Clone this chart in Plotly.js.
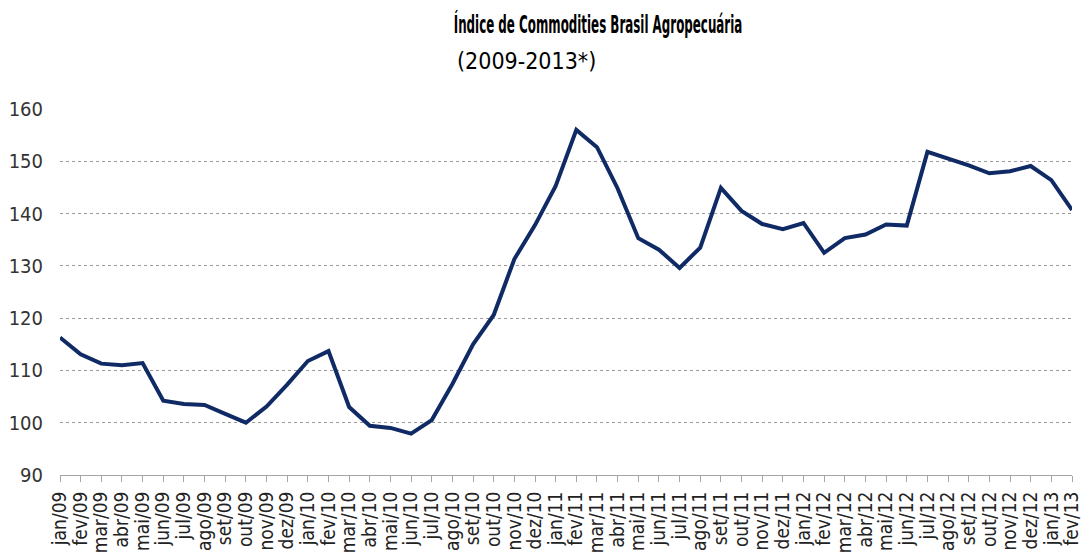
<!DOCTYPE html>
<html>
<head>
<meta charset="utf-8">
<script src="https://cdn.plot.ly/plotly-3.0.1.min.js"></script>
<style>
html,body{margin:0;padding:0;background:#fff}
#chart{width:1082px;height:555px}
</style>
</head>
<body>
<div id="chart"></div>
<script>
const months = ["jan/09","fev/09","mar/09","abr/09","mai/09","jun/09","jul/09","ago/09","set/09","out/09","nov/09","dez/09",
"jan/10","fev/10","mar/10","abr/10","mai/10","jun/10","jul/10","ago/10","set/10","out/10","nov/10","dez/10",
"jan/11","fev/11","mar/11","abr/11","mai/11","jun/11","jul/11","ago/11","set/11","out/11","nov/11","dez/11",
"jan/12","fev/12","mar/12","abr/12","mai/12","jun/12","jul/12","ago/12","set/12","out/12","nov/12","dez/12",
"jan/13","fev/13"];
const indexValues = [116.3,113.1,111.3,111.0,111.4,104.2,103.6,103.4,101.7,100.0,103.1,107.3,
111.8,113.7,103.0,99.4,99.0,97.9,100.5,107.4,115.0,120.6,131.3,137.8,
145.3,156.0,152.7,144.8,135.3,133.1,129.6,133.5,144.9,140.5,138.0,137.0,
138.2,132.5,135.3,136.0,137.9,137.7,151.8,150.6,149.2,147.7,148.1,149.1,
146.4,140.7];
const yTicks = [90,100,110,120,130,140,150,160];
const titleText = "Índice de Commodities Brasil Agropecuária";
const subtitleText = "(2009-2013*)";

const FONT = "'DejaVu Sans Condensed', 'DejaVu Sans', sans-serif";

const trace = {
  x: months, y: indexValues, type: 'scatter', mode: 'lines',
  line: {color: '#0f2a64', width: 4}, hoverinfo: 'x+y'
};

const layout = {
  width: 1082, height: 555,
  margin: {l: 60, r: 10, t: 109, b: 80},
  paper_bgcolor: '#fff', plot_bgcolor: '#fff',
  showlegend: false,
  font: {family: FONT, color: '#333'},
  title: {text: '<b>' + titleText + '</b>', font: {family: FONT, size: 24, color: '#000'},
          x: (598-60)/1012, xanchor: 'center', xref: 'paper', y: 1 - 25/555, yanchor: 'middle', yref: 'container'},
  annotations: [{text: subtitleText, xref: 'paper', yref: 'paper', x: (526-60)/1012, y: (475-61)/366,
    xanchor: 'center', yanchor: 'middle', showarrow: false, font: {family: FONT, size: 23, color: '#000'}}],
  xaxis: {
    type: 'category', range: [0, months.length - 1], tickangle: -90,
    tickmode: 'array', tickvals: months, ticktext: months,
    ticks: 'outside', ticklen: 6, tickcolor: '#a6a6a6', tickwidth: 1, ticklabelstandoff: 2,
    showline: true, linecolor: '#a6a6a6', linewidth: 1, showgrid: false, zeroline: false,
    tickfont: {family: FONT, size: 19, color: '#222'}, automargin: false
  },
  yaxis: {
    range: [90, 160], tickvals: yTicks, ticktext: yTicks.map(String), ticklabelstandoff: 16,
    showline: false, ticks: '', showgrid: true, gridcolor: '#9a9a9a', griddash: 'dot', gridwidth: 1,
    zeroline: false, tickfont: {family: FONT, size: 20, color: '#333'}, automargin: false
  }
};

Plotly.newPlot('chart', [trace], layout, {displayModeBar: false, staticPlot: true}).then(function(gd){
  // The reference title is set in a narrow face; compress the real text horizontally to match.
  const t = gd.querySelector('.gtitle');
  if (t) { t.style.transformBox = 'fill-box'; t.style.transformOrigin = 'center'; t.style.transform = 'scaleX(0.55)'; }
});
</script>
</body>
</html>
